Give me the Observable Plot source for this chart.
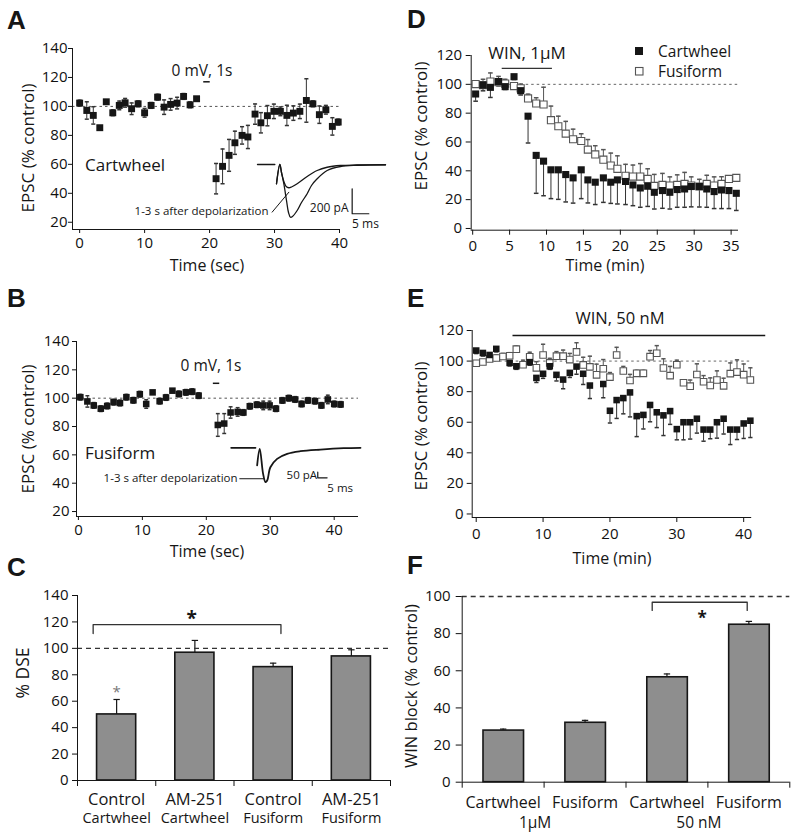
<!DOCTYPE html>
<html>
<head>
<meta charset="utf-8">
<script src="https://cdn.jsdelivr.net/npm/d3@7"></script>
<script src="https://cdn.jsdelivr.net/npm/@observablehq/plot@0.6"></script>
<style>
  html, body { margin: 0; padding: 0; background: #fff; }
  #fig { position: relative; width: 800px; height: 838px; overflow: hidden; background: #fff; font-family: "Open Sans", sans-serif; }
</style>
</head>
<body>
<div id="fig"></div>
<script>
// ---------------- DATA ----------------
// Panel A: Cartwheel DSE (time in s, EPSC % control, SEM)
const aTime  = [0,1.1,2.1,3.1,4.1,5.1,6.1,7,8,9,10,11,12,13,14,15,16,17,18,
                21,22,23,23.9,25,25.9,27,27.9,28.9,29.9,30.9,31.9,32.9,33.9,34.9,35.9,36.9,37.9,38.9,39.8];
const aValue = [102.3,97.2,93.8,85.3,103.2,95.6,100.7,102.5,98.4,101.8,95.6,100.7,106.4,99.5,101.4,102.3,106.9,101.1,105.3,
                50.1,58.6,66.2,74.9,80.0,78.9,94.7,88.7,93.6,96.6,96.6,93.8,95.4,96.6,104.1,101.8,94.3,97.7,86.2,89.2];
const aErr   = [2,6,6,0,0,2,3,3,4,2,3,2,2,5,4,4,2,2,1,
                10.5,12,11,8,6,8,7,7,7,5,3,7,5,5,15,2,6,3,6,2];
const aDepol = [{start: 19.1, end: 20.1, level: 117}];

// Panel B: Fusiform DSE
const bTime  = [0.3,1.4,2.4,3.5,4.5,5.5,6.5,7.5,8.6,9.6,10.6,11.6,12.7,13.7,14.7,15.7,16.8,17.8,18.8,
                21.8,22.8,23.8,24.9,25.8,26.8,27.9,28.9,29.9,30.9,31.9,32.9,33.9,34.9,35.9,37.0,38.0,39.0,40.0,41.0];
const bValue = [100.7,97.7,94.9,92.6,94.5,97.2,96.6,100.7,98.5,102.8,95.9,104.1,97.9,100.5,105.3,103.0,104.1,104.6,101.8,
                81.1,82.1,89.9,90.3,89.9,94.3,95.4,94.9,94.9,92.6,98.4,100.0,99.1,95.9,98.4,97.9,94.9,99.1,95.9,95.6];
const bErr   = [2,4,2,2,2,2,2,2,2,2,3,1,2,2,1,2,2,2,2,
                8,7,4,3,2,2,2,3,3,2,2,2,2,2,2,2,2,3,2,2];
const bDepol = [{start: 21.1, end: 22.1, level: 110.5}];

// Insets: example EPSC traces (ms, pA)
const insetABaseMs = [0, 5.2];
const insetABasePA = [0, 0];
const insetACtrlMs = [5.7,6.7,7.2,7.9,8.7,9.3,9.9,10.5,11.9,13.2,14.9,16.2,17.9,20.9,24.9,29.9,38.4];
const insetACtrlPA = [-154,0,-64,-154,-288,-384,-422,-416,-368,-304,-234,-168,-114,-48,-16,-6,-2];
const insetADepMs  = [5.7,6.7,7.2,7.9,8.6,9.4,10.2,11.9,14.9,17.9,20.9,24.9,29.9,38.4];
const insetADepPA  = [-154,0,-64,-136,-176,-186,-180,-154,-96,-48,-22,-8,-4,-2];
const insetAScale  = {ms: 28.4, pA: -394, lenMs: 5, lenPA: 200, msLabel: "5 ms", pALabel: "200 pA"};

const insetBBaseMs = [0, 13.0];
const insetBBasePA = [0, 0];
const insetBMs = [13.9,15.3,17.1,18.4,19.3,21.0,24.6,30.0,37.1,47.8,60.3,69.3];
const insetBPA = [-155,-9,-229,-302,-288,-171,-97,-53,-30,-15,-3,0];
const insetBScale = {ms: 46.4, pA: -264, lenMs: 5, lenPA: 50, msLabel: "5 ms", pALabel: "50 pA"};

// Panel C: % DSE bars
const cTreatment = ["Control","AM-251","Control","AM-251"];
const cCell      = ["Cartwheel","Cartwheel","Fusiform","Fusiform"];
const cValue     = [50, 96.7, 85.8, 93.9];
const cErr       = [11.3, 9.3, 3, 5];
const cSig       = {from: 0, to: 2, level: 118, drop: 6.8};
const cStarLevel = 70;

// Panel D: WIN 1 uM time course (min)
const dTime = [0.4,1.4,2.4,3.5,4.4,5.6,6.5,7.5,8.6,9.6,10.6,11.6,12.6,13.6,14.7,15.6,16.6,17.7,
               18.7,19.6,20.7,21.7,22.7,23.7,24.6,25.7,26.7,27.7,28.7,29.6,30.7,31.7,32.7,33.7,34.7,35.7];
const dCartwheel = [93.3,99.5,97.9,101.9,98.4,105.3,95.6,77.9,50.7,46.7,40.7,40.7,37.4,35.1,40.7,33.7,32.1,35.1,
                    32.1,33.7,32.6,30.2,28.1,29.3,25.1,26.3,25.1,27.0,27.4,29.1,29.1,27.4,25.6,26.7,26.3,24.4];
const dCartwheelErr = [5,4,7,3,2,2,3,18.6,26.3,24,20,20.5,19,17.5,20,16,15.5,17,
                       14.7,16.7,16,14.4,13.4,14,11.6,12.3,11.6,12.3,12.7,14.1,14.2,12.7,11.8,12.9,12.5,11.9];
const dFusiform = [100.2,99.5,101.9,101.5,100.5,98.8,97.2,90.2,86.7,86.0,75.1,70.9,65.8,61.9,60.7,54.7,51.4,47.7,
                   43.7,41.4,36.5,36,36,34.4,29.5,30.2,29.8,30.2,30.9,29.8,29.1,30.9,29.8,30.9,34.4,35.1];
const dFusiformErr = [2,4,6,4,3,2,3,3,4,12,9.8,7,8.5,7,5,7,6,7,
                      8.6,9,8,8,9,7,8,8,6,7,8,6,5,6,6,5,2,2];
const dWin = [{start: 4.0, end: 10.8, level: 111}];

// Panel E: WIN 50 nM time course (min)
const eCartwheelTime = [0,1,2,3,5,6,8,9,10,11,12,13,14,15,16,17,19,
                        20,21,22,23,24,25,26,27,28,29,30,31,32,33,34,35,36,37,38,39,40,41];
const eCartwheel = [106.9,105.3,104,108,98.8,96.6,99.3,89,91.7,96.6,91,87.9,92.3,96.4,91.7,84,85,
                    67.5,74.5,75.8,79.5,64,64.8,71.3,66.5,64.5,67.3,55.5,60,60,62.3,55.2,55.2,60,62.3,55.2,55.2,59.2,61];
const eCartwheelErr = [2,2,2,2,2,2,2,3,3,2,4,6,3,5,7,8.5,9,
                       8,12,10.3,16,13.4,9.2,11,10,13.2,8.7,7,11.5,11,9.4,7.6,6,10.4,10,9.8,6.5,9.8,11];
const eFusiformTime = [0,1,2,3,4,5,6,7,8,9,10,11,12,13,14,15,16,17,18,19,20,
                       21,22,23,24,25,26,27,28,29,30,31,32,33,34,35,36,37,38,39,40,41];
const eFusiform = [98.6,99.4,101.4,102,103,103.5,107.8,97.6,102.8,95.6,104,98.8,103.2,103.2,101,106,97.5,96.2,91,95,89.5,
                   104,93.5,87.3,92,92,102.9,105.1,95.5,90.5,97.6,85.8,83.6,91.2,86.5,84,87.6,83.8,91.8,92.8,91.1,87.6];
const eFusiformErr = [1,1,1,2,2,2,2,3,3,4,7,3,3,4,4,6,5,7,7,6,3,
                      5,3,4,2,2,4,5,6,6,3,2,4,7,4,5,6,5,7,8,7,8];
const eWin = [{start: 5.5, end: 43.3, level: 116.7}];

// Panel F: WIN block bars
const fCell  = ["Cartwheel","Fusiform","Cartwheel","Fusiform"];
const fConc  = ["1\u03bcM","50 nM"];
const fValue = [27.8, 32.0, 56.5, 84.8];
const fErr   = [0.8, 1.3, 1.8, 1.8];
const fSig   = {from: 2, to: 3, level: 96.9, drop: 4.4};

// ---------------- HELPERS ----------------
const fig = document.getElementById("fig");
function place(node, left, top) {
  node.style.position = "absolute";
  node.style.left = left + "px";
  node.style.top = top + "px";
  fig.appendChild(node);
}
const baseStyle = {fontFamily: '"Open Sans", sans-serif', fontSize: "15px", background: "transparent", overflow: "visible", color: "#111"};
const capSym = {draw(ctx, size) { const w = Math.sqrt(size) / 2; ctx.moveTo(-w, 0); ctx.lineTo(w, 0); }};
const rowsOf = (t, v, e) => t.map((x, i) => ({t: x, v: v[i], e: e[i]}));
const ink = "#161616";
const openInk = "#555";

// ---------------- PANEL A ----------------
const aRows = rowsOf(aTime, aValue, aErr);
place(Plot.plot({
  width: 400, height: 262, marginLeft: 72, marginRight: 61, marginTop: 48, marginBottom: 33,
  style: baseStyle,
  x: {domain: [-1.1, 40], ticks: [0,10,20,30,40], tickSize: 4, tickPadding: 4, label: null},
  y: {domain: [15, 140], ticks: [20,40,60,80,100,120,140], tickSize: 4, tickPadding: 1, label: null},
  marks: [
    Plot.ruleY([100], {stroke: "#555", strokeDasharray: "2.5,3"}),
    Plot.ruleX([-1.1], {stroke: ink}),
    Plot.ruleY([15], {stroke: ink}),
    Plot.ruleX(aRows, {x: "t", y1: d => d.v - d.e, y2: d => d.v + d.e, stroke: "#333"}),
    Plot.dot(aRows.filter(d => d.e > 0), {x: "t", y: d => d.v + d.e, symbol: capSym, r: 2.3, stroke: "#333", fill: "none"}),
    Plot.dot(aRows.filter(d => d.e > 0), {x: "t", y: d => d.v - d.e, symbol: capSym, r: 2.3, stroke: "#333", fill: "none"}),
    Plot.dot(aRows, {x: "t", y: "v", symbol: "square", r: 3.9, fill: ink}),
    Plot.ruleY(aDepol, {y: "level", x1: "start", x2: "end", stroke: ink, strokeWidth: 1.5})
  ]
}), 0, 0);

// Inset A
place(Plot.plot({
  width: 280, height: 95, marginLeft: 137, marginRight: 15, marginTop: 19, marginBottom: 6,
  style: baseStyle,
  x: {domain: [0, 38.4], axis: null},
  y: {domain: [-520, 40], axis: null},
  marks: [
    Plot.line(insetABaseMs.map((m, i) => ({ms: m, pA: insetABasePA[i]})), {x: "ms", y: "pA", stroke: ink, strokeWidth: 1.3}),
    Plot.line(insetACtrlMs.map((m, i) => ({ms: m, pA: insetACtrlPA[i]})), {x: "ms", y: "pA", stroke: ink, strokeWidth: 1.3, curve: "catmull-rom"}),
    Plot.line(insetADepMs.map((m, i) => ({ms: m, pA: insetADepPA[i]})), {x: "ms", y: "pA", stroke: ink, strokeWidth: 1.3, curve: "catmull-rom"}),
    Plot.line([
      {ms: insetAScale.ms, pA: insetAScale.pA + insetAScale.lenPA},
      {ms: insetAScale.ms, pA: insetAScale.pA},
      {ms: insetAScale.ms + insetAScale.lenMs, pA: insetAScale.pA}
    ], {x: "ms", y: "pA", stroke: ink, strokeWidth: 1.2}),
    Plot.text([insetAScale.pALabel], {x: insetAScale.ms - 1.1, y: insetAScale.pA + 42, text: d => d, textAnchor: "end", fontSize: 12, fill: ink}),
    Plot.text([insetAScale.msLabel], {x: insetAScale.ms + 4, y: insetAScale.pA - 86, text: d => d, fontSize: 12, fill: ink}),
    Plot.line([{ms: 4.4, pA: -381}, {ms: 9.4, pA: -222}], {x: "ms", y: "pA", stroke: ink, strokeWidth: 1}),
    Plot.text(["1-3 s after depolarization"], {x: 3.3, y: -376, text: d => d, textAnchor: "end", fontSize: 11.5, fill: ink})
  ]
}), 120, 140);

// ---------------- PANEL B ----------------
const bRows = rowsOf(bTime, bValue, bErr);
place(Plot.plot({
  width: 400, height: 280, marginLeft: 76, marginRight: 42, marginTop: 71, marginBottom: 34,
  style: baseStyle,
  x: {domain: [-0.3, 43.8], ticks: [0,10,20,30,40], tickSize: 4, tickPadding: 4, label: null},
  y: {domain: [16.5, 140], ticks: [20,40,60,80,100,120,140], tickSize: 4, tickPadding: 3, label: null},
  marks: [
    Plot.ruleY([100], {stroke: "#555", strokeDasharray: "2.5,3"}),
    Plot.ruleX([-0.3], {stroke: ink}),
    Plot.ruleY([16.5], {stroke: ink}),
    Plot.ruleX(bRows, {x: "t", y1: d => d.v - d.e, y2: d => d.v + d.e, stroke: "#333"}),
    Plot.dot(bRows, {x: "t", y: d => d.v + d.e, symbol: capSym, r: 2.2, stroke: "#333", fill: "none"}),
    Plot.dot(bRows, {x: "t", y: d => d.v - d.e, symbol: capSym, r: 2.2, stroke: "#333", fill: "none"}),
    Plot.dot(bRows, {x: "t", y: "v", symbol: "square", r: 3.7, fill: ink}),
    Plot.ruleY(bDepol, {y: "level", x1: "start", x2: "end", stroke: ink, strokeWidth: 1.5})
  ]
}), 0, 270);

// Inset B
place(Plot.plot({
  width: 280, height: 70, marginLeft: 140.7, marginRight: 10, marginTop: 10.5, marginBottom: 7.2,
  style: baseStyle,
  x: {domain: [0, 69.3], axis: null},
  y: {domain: [-400, 60], axis: null},
  marks: [
    Plot.line(insetBBaseMs.map((m, i) => ({ms: m, pA: insetBBasePA[i]})), {x: "ms", y: "pA", stroke: ink, strokeWidth: 1.8}),
    Plot.line(insetBMs.map((m, i) => ({ms: m, pA: insetBPA[i]})), {x: "ms", y: "pA", stroke: ink, strokeWidth: 1.8, curve: "catmull-rom"}),
    Plot.line([
      {ms: insetBScale.ms, pA: insetBScale.pA + insetBScale.lenPA},
      {ms: insetBScale.ms, pA: insetBScale.pA},
      {ms: insetBScale.ms + insetBScale.lenMs, pA: insetBScale.pA}
    ], {x: "ms", y: "pA", stroke: ink, strokeWidth: 1.2}),
    Plot.text([insetBScale.pALabel], {x: insetBScale.ms - 0.4, y: insetBScale.pA + 22, text: d => d, textAnchor: "end", fontSize: 11.5, fill: ink}),
    Plot.text([insetBScale.msLabel], {x: insetBScale.ms + 12, y: insetBScale.pA - 96, text: d => d, fontSize: 11.5, fill: ink}),
    Plot.line([{ms: 4.6, pA: -272}, {ms: 17.5, pA: -272}], {x: "ms", y: "pA", stroke: ink, strokeWidth: 1}),
    Plot.text(["1-3 s after depolarization"], {x: 3.4, y: -270, text: d => d, textAnchor: "end", fontSize: 11.5, fill: ink})
  ]
}), 90, 430);

// ---------------- PANEL C ----------------
const cRows = cValue.map((v, i) => ({i, v, e: cErr[i], treat: cTreatment[i], cell: cCell[i]}));
const cL = cSig.from + 0.2, cR = cSig.to + 0.6;
place(Plot.plot({
  width: 400, height: 278, marginLeft: 77, marginRight: 10, marginTop: 35, marginBottom: 58,
  style: baseStyle,
  x: {domain: [0, 4], ticks: [0,1,2,3,4], tickFormat: () => "", tickSize: 6, label: null},
  y: {domain: [0, 140], ticks: [0,20,40,60,80,100,120,140], tickSize: 5, tickPadding: 4, label: null},
  marks: [
    Plot.ruleX(cRows, {x: d => d.i + 0.5, y1: "v", y2: d => d.v + d.e, stroke: ink, strokeWidth: 1.2}),
    Plot.dot(cRows, {x: d => d.i + 0.5, y: d => d.v + d.e, symbol: capSym, r: 3.6, stroke: ink, strokeWidth: 1.2, fill: "none"}),
    Plot.rectY(cRows, {x1: d => d.i + 0.25, x2: d => d.i + 0.75, y1: 0, y2: "v", fill: "#8e8e8e", stroke: ink, strokeWidth: 1.6}),
    Plot.ruleY([100], {stroke: "#333", strokeDasharray: "5,4", strokeWidth: 1.3}),
    Plot.ruleX([0], {stroke: ink}),
    Plot.ruleY([0], {stroke: ink}),
    Plot.line([{x: cL, y: cSig.level - cSig.drop}, {x: cL, y: cSig.level}, {x: cR, y: cSig.level}, {x: cR, y: cSig.level - cSig.drop}],
      {x: "x", y: "y", stroke: "#333", strokeWidth: 1.3}),
    Plot.text(["*"], {x: (cL + cR) / 2 + 0.06, y: cSig.level + 8.4, text: d => d, fontSize: 19, fontWeight: "bold", dy: 5, fill: ink}),
    Plot.text(["*"], {x: cSig.from + 0.5, y: cStarLevel, text: d => d, fontSize: 15, dy: 4, fill: "#777"}),
    Plot.text(cRows, {x: d => d.i + 0.5, y: 0, text: "treat", dy: 19, fontSize: 16.5, fill: ink}),
    Plot.text(cRows, {x: d => d.i + 0.5, y: 0, text: "cell", dy: 38, fontSize: 14.5, fill: ink})
  ]
}), 0, 560);

// ---------------- PANEL D ----------------
const dCart = rowsOf(dTime, dCartwheel, dCartwheelErr);
const dFus = rowsOf(dTime, dFusiform, dFusiformErr);
place(Plot.plot({
  width: 400, height: 262, marginLeft: 70.7, marginRight: 62, marginTop: 55, marginBottom: 32.3,
  style: baseStyle,
  x: {domain: [-0.2, 36], ticks: [0,5,10,15,20,25,30,35], tickSize: 5, tickPadding: 5, label: null},
  y: {domain: [-1.2, 120], ticks: [0,20,40,60,80,100,120], tickSize: 5, tickPadding: 4, label: null},
  marks: [
    Plot.ruleY([100], {stroke: "#666", strokeDasharray: "2.5,3"}),
    Plot.ruleX([-0.2], {stroke: ink}),
    Plot.ruleY([-1.2], {stroke: ink}),
    Plot.ruleX(dFus, {x: "t", y1: "v", y2: d => d.v + d.e, stroke: openInk}),
    Plot.dot(dFus, {x: "t", y: d => d.v + d.e, symbol: capSym, r: 2.6, stroke: openInk, fill: "none"}),
    Plot.ruleX(dCart, {x: "t", y1: "v", y2: d => d.v - d.e, stroke: "#333"}),
    Plot.dot(dCart, {x: "t", y: d => d.v - d.e, symbol: capSym, r: 2.6, stroke: "#333", fill: "none"}),
    Plot.dot(dFus, {x: "t", y: "v", symbol: "square", r: 4, fill: "white", stroke: openInk, strokeWidth: 1.1}),
    Plot.dot(dCart, {x: "t", y: "v", symbol: "square", r: 4, fill: ink}),
    Plot.ruleY(dWin, {y: "level", x1: "start", x2: "end", stroke: "#333", strokeWidth: 1.3})
  ]
}), 400, 0);

// ---------------- PANEL E ----------------
const eCart = rowsOf(eCartwheelTime, eCartwheel, eCartwheelErr);
const eFus = rowsOf(eFusiformTime, eFusiform, eFusiformErr);
place(Plot.plot({
  width: 400, height: 280, marginLeft: 71.7, marginRight: 48.8, marginTop: 60, marginBottom: 33,
  style: baseStyle,
  x: {domain: [-0.6, 41.2], ticks: [0,10,20,30,40], tickSize: 5, tickPadding: 6, label: null},
  y: {domain: [-2.3, 120], ticks: [0,20,40,60,80,100,120], tickSize: 5, tickPadding: 3.5, label: null},
  marks: [
    Plot.ruleY([100], {stroke: "#666", strokeDasharray: "2.5,3"}),
    Plot.ruleX([-0.6], {stroke: ink}),
    Plot.ruleY([-2.3], {stroke: ink}),
    Plot.ruleX(eFus, {x: "t", y1: "v", y2: d => d.v + d.e, stroke: openInk}),
    Plot.dot(eFus, {x: "t", y: d => d.v + d.e, symbol: capSym, r: 2.4, stroke: openInk, fill: "none"}),
    Plot.ruleX(eCart, {x: "t", y1: "v", y2: d => d.v - d.e, stroke: "#333"}),
    Plot.dot(eCart, {x: "t", y: d => d.v - d.e, symbol: capSym, r: 2.4, stroke: "#333", fill: "none"}),
    Plot.dot(eFus, {x: "t", y: "v", symbol: "square", r: 3.7, fill: "white", stroke: openInk, strokeWidth: 1.1}),
    Plot.dot(eCart, {x: "t", y: "v", symbol: "square", r: 3.7, fill: ink}),
    Plot.ruleY(eWin, {y: "level", x1: "start", x2: "end", stroke: ink, strokeWidth: 1.6})
  ]
}), 400, 270);

// ---------------- PANEL F ----------------
const fRows = fValue.map((v, i) => ({i, v, e: fErr[i], cell: fCell[i]}));
const fL = fSig.from + 0.32, fR = fSig.to + 0.48;
place(Plot.plot({
  width: 400, height: 278, marginLeft: 61.7, marginRight: 10.7, marginTop: 36, marginBottom: 56.3,
  style: baseStyle,
  x: {domain: [0, 4], ticks: [0,1,2,3,4], tickFormat: () => "", tickSize: 6, label: null},
  y: {domain: [0, 100], ticks: [0,20,40,60,80,100], tickSize: 6, tickPadding: 5.5, label: null},
  marks: [
    Plot.ruleX(fRows, {x: d => d.i + 0.5, y1: "v", y2: d => d.v + d.e, stroke: ink, strokeWidth: 1.2}),
    Plot.dot(fRows, {x: d => d.i + 0.5, y: d => d.v + d.e, symbol: capSym, r: 3.6, stroke: ink, strokeWidth: 1.2, fill: "none"}),
    Plot.rectY(fRows, {x1: d => d.i + 0.26, x2: d => d.i + 0.755, y1: 0, y2: "v", fill: "#8e8e8e", stroke: ink, strokeWidth: 1.6}),
    Plot.ruleY([100], {stroke: "#333", strokeDasharray: "5,4", strokeWidth: 1.3}),
    Plot.ruleX([0], {stroke: ink}),
    Plot.ruleY([0], {stroke: ink}),
    Plot.line([{x: fL, y: fSig.level - fSig.drop}, {x: fL, y: fSig.level}, {x: fR, y: fSig.level}, {x: fR, y: fSig.level - fSig.drop}],
      {x: "x", y: "y", stroke: "#333", strokeWidth: 1.3}),
    Plot.text(["*"], {x: (fL + fR) / 2 + 0.03, y: fSig.level - 6, text: d => d, fontSize: 17, fontWeight: "bold", dy: 5, fill: ink}),
    Plot.text(fRows, {x: d => d.i + 0.5, y: 0, text: "cell", dy: 20.5, fontSize: 16, fill: ink}),
    Plot.text(fConc.map((c, j) => ({c, j})), {x: d => d.j * 2 + 1, y: 0, text: "c", dy: 41, dx: -9, fontSize: 15.5, fill: ink})
  ]
}), 400, 560);

// ---------------- OVERLAY TEXT ----------------
const ov = d3.select(fig).append("svg")
  .attr("width", 800).attr("height", 838)
  .style("position", "absolute").style("left", "0px").style("top", "0px")
  .style("pointer-events", "none")
  .style("font-family", '"Open Sans", sans-serif')
  .attr("fill", ink);

const letters = [["A", 7, 29], ["B", 7, 307], ["C", 7, 576], ["D", 407, 28], ["E", 407, 307], ["F", 407, 574]];
ov.selectAll("text.letter").data(letters).join("text")
  .attr("class", "letter")
  .attr("x", d => d[1]).attr("y", d => d[2])
  .style("font-family", '"Liberation Sans", Arial, sans-serif')
  .style("font-weight", "bold").style("font-size", "26px")
  .text(d => d[0]);

function label(str, x, y, opts = {}) {
  const t = ov.append("text")
    .attr("x", x).attr("y", y)
    .attr("text-anchor", opts.anchor || "middle")
    .attr("dominant-baseline", "central")
    .style("font-size", (opts.size || 16) + "px")
    .text(str);
  if (opts.rotate) t.attr("transform", `rotate(${opts.rotate},${x},${y})`);
  return t;
}
// axis titles
label("EPSC (% control)", 27, 148, {size: 17, rotate: -90});
label("Time (sec)", 207, 265, {size: 16});
label("EPSC (% control)", 27, 429, {size: 17, rotate: -90});
label("Time (sec)", 207, 551, {size: 16});
label("% DSE", 22, 673, {size: 17.5, rotate: -90});
label("EPSC (% control)", 420, 126, {size: 17, rotate: -90});
label("Time (min)", 605, 265, {size: 16});
label("EPSC (% control)", 420, 426, {size: 17, rotate: -90});
label("Time (min)", 612, 558, {size: 16});
label("WIN block (% control)", 410, 686, {size: 16.5, rotate: -90});
// annotations
label("0 mV, 1s", 202, 70, {size: 15.5});
label("Cartwheel", 85, 164, {size: 17, anchor: "start"});
label("0 mV, 1s", 211, 365, {size: 15.5});
label("Fusiform", 85, 452, {size: 17, anchor: "start"});
label("WIN, 1\u03bcM", 527, 52, {size: 17});
label("WIN, 50 nM", 620, 317, {size: 16.5});
// legend D
ov.append("rect").attr("x", 635).attr("y", 47).attr("width", 8).attr("height", 8).attr("fill", ink);
ov.append("rect").attr("x", 635.5).attr("y", 67.5).attr("width", 7.5).attr("height", 7.5).attr("fill", "white").attr("stroke", openInk).attr("stroke-width", 1.1);
label("Cartwheel", 658, 51, {size: 15.5, anchor: "start"});
label("Fusiform", 658, 71, {size: 15.5, anchor: "start"});
</script>
</body>
</html>
